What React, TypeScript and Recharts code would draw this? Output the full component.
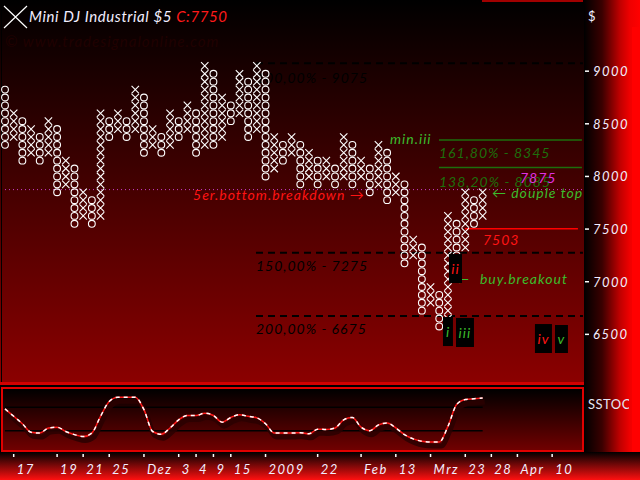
import React from "react";
import {
  ComposedChart,
  Scatter,
  Line,
  XAxis,
  YAxis,
  ReferenceLine,
  ReferenceArea,
  ReferenceDot,
} from "recharts";

const BOX_SIZE = 75;

// point & figure columns: kind, top box and bottom box (price)
const colKinds = (
  "OXOXOXOXOXOXOX" + "OXOXOXOXOXOXOX" + "OXOXOXOXOXOXOX" + "OXOXOXOXOXOXOX"
).split("");
const colTops = [
  8825, 8600, 8525, 8450, 8375, 8525, 8450, 8150, 8075, 7850, 7775, 8600, 8525, 8600,
  8525, 8825, 8750, 8450, 8375, 8600, 8525, 8675, 8600, 9050, 8975, 8750, 8675, 8975,
  8900, 9050, 8975, 8375, 8300, 8375, 8300, 8225, 8150, 8150, 8075, 8375, 8300, 8150,
  8075, 8300, 8225, 8000, 7925, 7400, 7325, 6950, 6875, 7625, 7550, 7850, 7775, 7850,
];
const colBottoms = [
  8300, 8375, 8150, 8225, 8150, 8225, 7850, 7925, 7550, 7625, 7550, 7625, 8375, 8450,
  8375, 8450, 8225, 8300, 8225, 8300, 8375, 8450, 8225, 8300, 8300, 8375, 8525, 8600,
  8375, 8450, 8000, 8075, 8150, 8225, 7925, 8000, 7925, 8000, 7925, 8000, 7925, 8000,
  7850, 7925, 7775, 7850, 7175, 7250, 6725, 6800, 6575, 6650, 7250, 7325, 7550, 7625,
];

// slow stochastic, one value per column
const sstoc = [
  76, 57, 38, 16, 14, 27, 29, 18, 10, 5, 14, 57, 95, 106, 106, 106, 74, 18, 11, 27,
  48, 59, 59, 65, 59, 42, 54, 61, 57, 53, 38, 14, 14, 14, 15, 12, 24, 23, 27, 48,
  54, 29, 20, 35, 40, 27, 10, -1, -7, -9, -9, 31, 87, 100, 102, 104,
];

const priceTicks = [6500, 7000, 7500, 8000, 8500, 9000];
const dateTickCols = [2, 7, 10, 13, 17, 21, 23, 25, 27, 31, 37, 42, 46, 50, 54, 57, 60, 64];
const dateTickLabels = [
  "17", "19", "21", "25", "Dez", "3", "4", "9", "15", "2009",
  "22", "Feb", "13", "Mrz", "23", "28", "Apr", "10",
];

const X_DOMAIN: [number, number] = [0.424, 68.13];
const PRICE_DOMAIN: [number, number] = [6019, 9676];
const OSC_DOMAIN: [number, number] = [-32, 129.5];

const HAND = "Lato, 'DejaVu Sans', sans-serif";
const GREEN = "#3cbc2c";
const DARK_GREEN = "#1d6e0c";
const RED = "#ff1414";

const xBoxes: { col: number; price: number }[] = [];
const oBoxes: { col: number; price: number }[] = [];
colTops.forEach((top, i) => {
  const list = colKinds[i] === "X" ? xBoxes : oBoxes;
  for (let p = top; p >= colBottoms[i]; p -= BOX_SIZE) list.push({ col: i + 1, price: p });
});

const sstocData = sstoc.map((v, i) => ({ col: i + 1, v }));

const XMark = (p: any) => {
  const h = 3.7;
  const { cx, cy } = p;
  return (
    <path
      d={`M${cx - h},${cy - h}L${cx + h},${cy + h}M${cx + h},${cy - h}L${cx - h},${cy + h}`}
      stroke="#fff"
      strokeWidth={1.1}
      fill="none"
    />
  );
};

const OMark = (p: any) => (
  <circle cx={p.cx} cy={p.cy} r={3.4} stroke="#fff" strokeWidth={1.1} fill="none" />
);

const note =
  (text: string, color: string, size = 14, anchor: "start" | "middle" = "start") =>
  (p: any) => (
    <text
      x={p.cx}
      y={p.cy}
      fill={color}
      fontSize={size}
      fontFamily={HAND}
      fontStyle="italic"
      textAnchor={anchor}
      letterSpacing={1}
    >
      {text}
    </text>
  );

const PriceTick = (props: any) => {
  const { x, y, payload } = props;
  return (
    <g>
      <line x1={x - 3} x2={x + 1} y1={y} y2={y} stroke="#fff" strokeWidth={1.5} />
      <text
        x={x + 5}
        y={y + 5}
        fill="#f2eeff"
        fontSize={13}
        fontFamily={HAND}
        fontStyle="italic"
        letterSpacing={1.5}
      >
        {payload.value}
      </text>
    </g>
  );
};

const DateTick = (props: any) => {
  const { x, y, payload } = props;
  const label = dateTickLabels[dateTickCols.indexOf(payload.value)];
  return (
    <g>
      <line x1={x} x2={x} y1={y + 3} y2={y + 6} stroke="#fff" strokeWidth={1.5} />
      <text
        x={x + 3}
        y={y + 23}
        fill="#f2eeff"
        fontSize={13}
        fontFamily={HAND}
        fontStyle="italic"
        letterSpacing={1.5}
      >
        {label}
      </text>
    </g>
  );
};

// roman wave count boxes
const waveBoxes = [
  { x1: 51.43, x2: 52.58, y1: 6389, y2: 6665, cx: 52.01, cy: 6475, text: "i", color: GREEN },
  { x1: 52.12, x2: 53.62, y1: 6988, y2: 7263, cx: 52.87, cy: 7073, text: "ii", color: RED },
  { x1: 52.93, x2: 55.0, y1: 6380, y2: 6656, cx: 53.96, cy: 6465, text: "iii", color: GREEN },
  { x1: 62.02, x2: 63.98, y1: 6323, y2: 6598, cx: 63.0, cy: 6408, text: "iv", color: RED },
  { x1: 64.33, x2: 65.82, y1: 6323, y2: 6589, cx: 65.07, cy: 6408, text: "v", color: GREEN },
];

const notes = [
  { x: 29.9, y: 8888, text: "100,00% - 9075", color: "#000" },
  { x: 29.9, y: 7102, text: "150,00% - 7275", color: "#000" },
  { x: 29.9, y: 6503, text: "200,00% - 6675", color: "#000" },
  { x: 50.97, y: 8175, text: "161,80% - 8345", color: DARK_GREEN },
  { x: 50.97, y: 7900, text: "138,20% - 8085", color: DARK_GREEN },
  { x: 60.3, y: 7938, text: "7875", color: "#e030e0" },
  { x: 45.33, y: 8308, text: "min.iii", color: GREEN },
  { x: 22.65, y: 7776, text: "5er.bottom.breakdown \u2192", color: RED },
  { x: 57.07, y: 7795, text: "\u2190 douple top", color: GREEN },
  { x: 56.04, y: 7349, text: "7503", color: RED },
  { x: 52.81, y: 6978, text: "\u2190", color: GREEN },
  { x: 55.69, y: 6978, text: "buy.breakout", color: GREEN },
];

const levelLines = [
  { x1: 29.9, x2: 67.55, y: 9075, color: "#000", width: 2, dash: "7 5" },
  { x1: 29.9, x2: 67.55, y: 7275, color: "#000", width: 2, dash: "7 5" },
  { x1: 29.9, x2: 67.55, y: 6675, color: "#000", width: 2, dash: "7 5" },
  { x1: 50.97, x2: 67.43, y: 8345, color: DARK_GREEN, width: 1.5, dash: undefined },
  { x1: 50.97, x2: 67.43, y: 8085, color: DARK_GREEN, width: 1.5, dash: undefined },
  { x1: 1, x2: 67.55, y: 7875, color: "#c83cc8", width: 1, dash: "1 3" },
  { x1: 53.96, x2: 66.97, y: 7503, color: "#ff0000", width: 1.5, dash: undefined },
];

const abs = (left: number, top: number, width: number, height: number, extra: any = {}) => ({
  position: "absolute" as const,
  left,
  top,
  width,
  height,
  ...extra,
});

const MAIN_MARGIN = { top: 0, right: 52, bottom: 0, left: 0 };

export default function App() {
  return (
    <div style={abs(0, 0, 640, 480, { background: "#000", overflow: "hidden" })}>
      <div style={abs(0, 0, 588, 385, { background: "linear-gradient(to bottom, #000000, #8c0000)" })} />
      <div
        style={abs(584, 0, 56, 452, {
          background:
            "linear-gradient(to right, #000 0px, #3a0000 18px, #c00000 36px, #f00000 46px, #ff0000 56px)",
        })}
      />
      <div style={abs(632, 27, 8, 425, { background: "#ff0000" })} />
      <div style={abs(0, 452, 640, 28, { background: "linear-gradient(to bottom, #000000, #ff1010)" })} />
      <div style={abs(1, 0, 1, 382, { background: "#000" })} />
      <div style={abs(482, 0, 101, 2, { background: "#a00000" })} />
      <div style={abs(0, 382, 584, 3, { background: "#d00000" })} />
      <div
        style={abs(1, 387, 583, 65, {
          boxSizing: "border-box",
          border: "2px solid #e00000",
          background: "linear-gradient(to bottom, #000000, #700000)",
        })}
      />
      <div
        style={abs(588, 396, 41, 16, {
          overflow: "hidden",
          whiteSpace: "nowrap",
          color: "#e6e6f4",
          fontFamily: HAND,
          fontSize: 13,
          letterSpacing: 0.5,
        })}
      >
        SSTOC
      </div>

      {/* level lines and notes, behind the boxes */}
      <div style={abs(0, 0, 640, 385)}>
        <ComposedChart width={640} height={385} margin={MAIN_MARGIN}>
          <XAxis type="number" dataKey="col" domain={X_DOMAIN} allowDataOverflow hide />
          <YAxis type="number" dataKey="price" domain={PRICE_DOMAIN} allowDataOverflow hide />
          {levelLines.map((l, i) => (
            <ReferenceLine
              key={"l" + i}
              segment={[{ x: l.x1, y: l.y }, { x: l.x2, y: l.y }]}
              stroke={l.color}
              strokeWidth={l.width}
              strokeDasharray={l.dash}
            />
          ))}
          {notes.map((n, i) => (
            <ReferenceDot key={"n" + i} x={n.x} y={n.y} r={0} shape={note(n.text, n.color)} />
          ))}
        </ComposedChart>
      </div>

      {/* point & figure boxes and price axis */}
      <div style={abs(0, 0, 640, 385)}>
        <ComposedChart width={640} height={385} margin={{ top: 0, right: 0, bottom: 0, left: 0 }}>
          <XAxis type="number" dataKey="col" domain={X_DOMAIN} allowDataOverflow hide />
          <YAxis
            type="number"
            dataKey="price"
            orientation="right"
            width={52}
            domain={PRICE_DOMAIN}
            allowDataOverflow
            ticks={priceTicks}
            interval={0}
            tick={PriceTick}
            tickSize={0}
            tickMargin={0}
            axisLine={false}
            tickLine={false}
          />
          <Scatter data={oBoxes} dataKey="price" shape={OMark} isAnimationActive={false} />
          <Scatter data={xBoxes} dataKey="price" shape={XMark} isAnimationActive={false} />
          <path d="M4,6L27,28M27,6L4,28" stroke="#fff" strokeWidth={1.2} />
          <text x={29} y={22} fill="#f2eeff" fontSize={15} fontFamily={HAND} fontStyle="italic" letterSpacing={0.6}>
            Mini DJ Industrial $5{" "}
            <tspan fill="#ff1a1a">C:7750</tspan>
          </text>
          <text x={5} y={47} fill="#200000" fontSize={15} fontFamily={HAND} fontStyle="italic" letterSpacing={1}>
            © www.tradesignalonline.com
          </text>
          <text x={588} y={21} fill="#f2eeff" fontSize={13} fontFamily={HAND}>
            $
          </text>
        </ComposedChart>
      </div>

      {/* wave count boxes on top */}
      <div style={abs(0, 0, 640, 385)}>
        <ComposedChart width={640} height={385} margin={MAIN_MARGIN}>
          <XAxis type="number" dataKey="col" domain={X_DOMAIN} allowDataOverflow hide />
          <YAxis type="number" dataKey="price" domain={PRICE_DOMAIN} allowDataOverflow hide />
          {waveBoxes.map((b, i) => (
            <ReferenceArea
              key={"b" + i}
              x1={b.x1}
              x2={b.x2}
              y1={b.y1}
              y2={b.y2}
              fill="#000"
              fillOpacity={1}
              stroke="none"
            />
          ))}
          {waveBoxes.map((b, i) => (
            <ReferenceDot
              key={"t" + i}
              x={b.cx}
              y={b.cy}
              r={0}
              shape={note(b.text, b.color, 14, "middle")}
            />
          ))}
        </ComposedChart>
      </div>

      <div style={abs(0, 385, 640, 95)}>
        <ComposedChart
          width={640}
          height={95}
          data={sstocData}
          margin={{ top: 3, right: 52, bottom: 0, left: 0 }}
        >
          <defs>
            <filter id="oscShadow" x="-5%" y="-30%" width="110%" height="180%">
              <feOffset dx="2" dy="4" />
            </filter>
          </defs>
          <XAxis
            type="number"
            dataKey="col"
            domain={X_DOMAIN}
            allowDataOverflow
            ticks={dateTickCols}
            interval={0}
            tick={DateTick}
            tickSize={0}
            tickMargin={0}
            axisLine={false}
            tickLine={false}
            height={29}
          />
          <YAxis hide domain={OSC_DOMAIN} allowDataOverflow />
          <ReferenceLine segment={[{ x: 1, y: 80 }, { x: 56, y: 80 }]} stroke="#000" strokeWidth={1.5} />
          <ReferenceLine segment={[{ x: 1, y: 20 }, { x: 56, y: 20 }]} stroke="#000" strokeWidth={1.5} />
          <Line
            type="monotone"
            dataKey="v"
            stroke="#2a0000"
            strokeOpacity={0.85}
            strokeWidth={5}
            dot={false}
            filter="url(#oscShadow)"
            isAnimationActive={false}
          />
          <Line type="monotone" dataKey="v" stroke="#ff1a1a" strokeWidth={1.5} dot={false} isAnimationActive={false} />
          <Line
            type="monotone"
            dataKey="v"
            stroke="#ffffff"
            strokeWidth={1.5}
            strokeDasharray="4 4"
            dot={false}
            isAnimationActive={false}
          />
        </ComposedChart>
      </div>
    </div>
  );
}
